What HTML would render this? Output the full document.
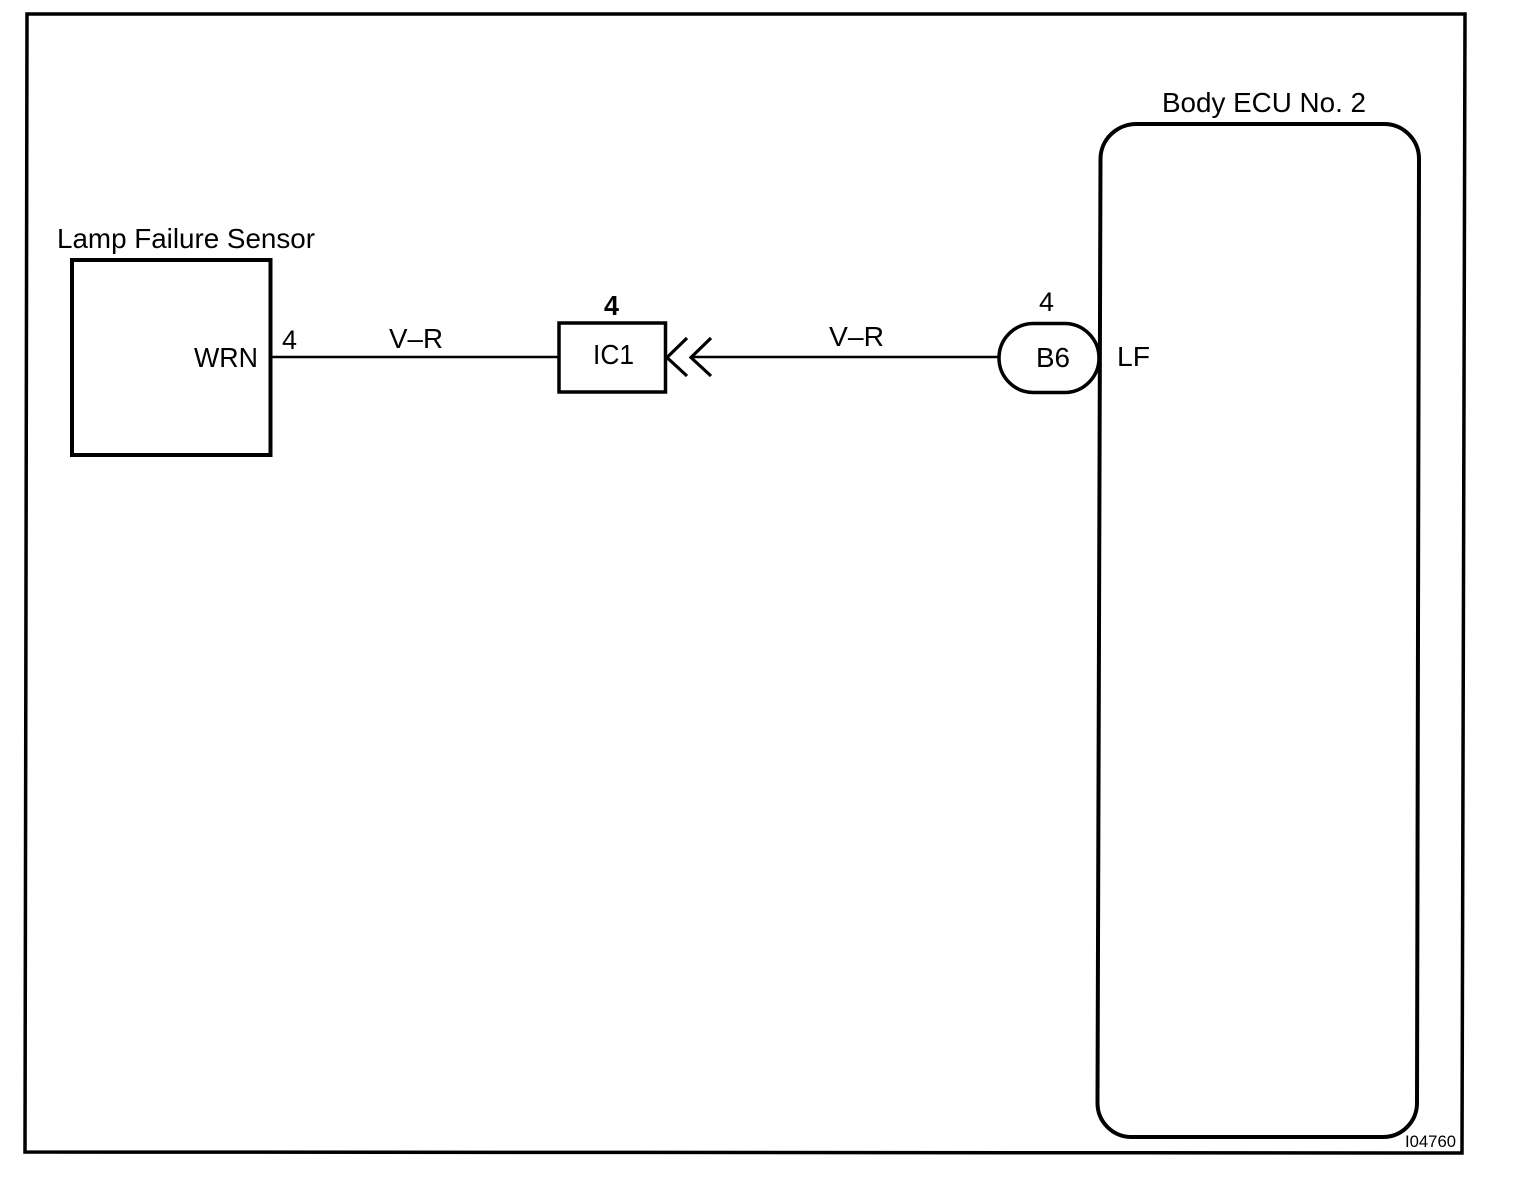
<!DOCTYPE html>
<html>
<head>
<meta charset="utf-8">
<style>
html,body{margin:0;padding:0;background:#fff;}
svg{display:block;}
text{font-family:"Liberation Sans",sans-serif;fill:#000;}
</style>
</head>
<body>
<svg width="1520" height="1178" viewBox="0 0 1520 1178" xmlns="http://www.w3.org/2000/svg">
<polygon points="27,14 1465,14 1462,1153 25,1152" fill="none" stroke="#000" stroke-width="3.500"/>
<rect x="72" y="260" width="198.500" height="195" fill="none" stroke="#000" stroke-width="4"/>
<rect x="559" y="323" width="106.500" height="69" fill="none" stroke="#000" stroke-width="3.500"/>
<path d="M1137,124 H1384 A35,35 0 0 1 1419,159 L1417,1103 A34,34 0 0 1 1383,1137 H1131 A34,34 0 0 1 1097.500,1103 L1100.500,159 A36,35 0 0 1 1137,124 Z" fill="none" stroke="#000" stroke-width="4"/>
<rect x="999" y="323.500" width="100" height="69" rx="34.500" ry="34.500" fill="none" stroke="#000" stroke-width="3.500"/>
<line x1="271" y1="357" x2="559" y2="357" stroke="#000" stroke-width="2.500"/>
<line x1="692" y1="357" x2="999" y2="357" stroke="#000" stroke-width="2.500"/>
<path d="M687,338 L667,357.500 L687,376 M711,338 L691,357.500 L711,376" fill="none" stroke="#000" stroke-width="3.200"/>
<text x="57" y="248" font-size="28" textLength="258" lengthAdjust="spacingAndGlyphs">Lamp Failure Sensor</text>
<text x="1162" y="112" font-size="28" textLength="204" lengthAdjust="spacingAndGlyphs">Body ECU No. 2</text>
<text x="194" y="367" font-size="28" textLength="64" lengthAdjust="spacingAndGlyphs">WRN</text>
<text x="282" y="349" font-size="27" textLength="15" lengthAdjust="spacingAndGlyphs">4</text>
<text x="389" y="348" font-size="28" textLength="54" lengthAdjust="spacingAndGlyphs">V–R</text>
<text x="593" y="364" font-size="28" textLength="41" lengthAdjust="spacingAndGlyphs">IC1</text>
<text x="604" y="315" font-size="28" font-weight="bold" textLength="15" lengthAdjust="spacingAndGlyphs">4</text>
<text x="829" y="346" font-size="28" textLength="55" lengthAdjust="spacingAndGlyphs">V–R</text>
<text x="1039" y="311" font-size="27" textLength="15" lengthAdjust="spacingAndGlyphs">4</text>
<text x="1036" y="367" font-size="28" textLength="34" lengthAdjust="spacingAndGlyphs">B6</text>
<text x="1117" y="366" font-size="28" textLength="33" lengthAdjust="spacingAndGlyphs">LF</text>
<text x="1405" y="1147" font-size="17" textLength="51" lengthAdjust="spacingAndGlyphs">I04760</text>
</svg>
</body>
</html>
